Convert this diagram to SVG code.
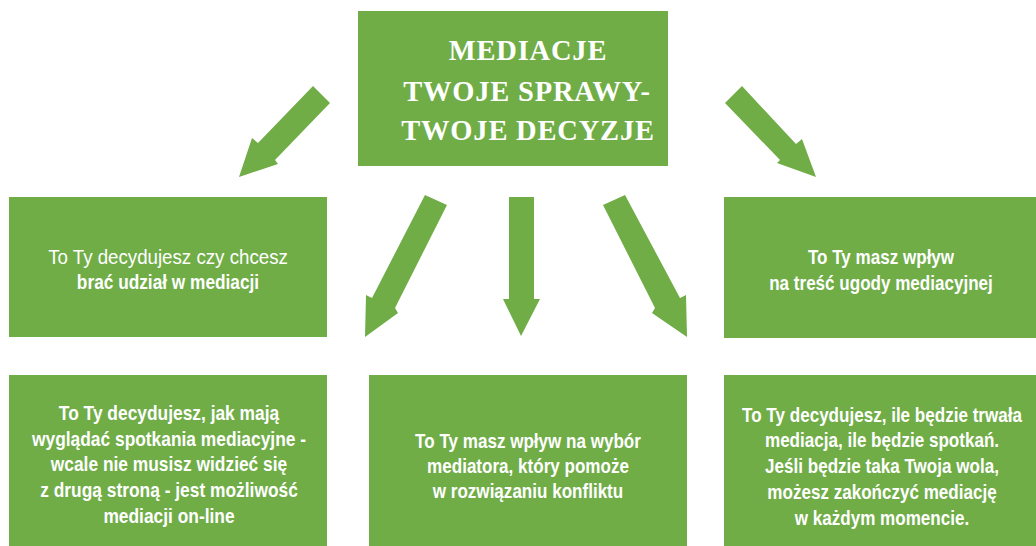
<svg xmlns="http://www.w3.org/2000/svg" width="1036" height="546" viewBox="0 0 1036 546">
<style>
.box{fill:#70AD47}
.arr{fill:#70AD47}
.t{font-family:"Liberation Sans","Arial",sans-serif;font-size:20.8px;fill:#ffffff;text-anchor:middle;font-weight:bold}
.r{font-weight:normal}
.title{font-family:"Liberation Serif","Times New Roman",serif;font-size:28.5px;font-weight:bold;fill:#ffffff;text-anchor:middle;letter-spacing:0.8px}
</style>
<rect width="1036" height="546" fill="#ffffff"/>
<g id="title">
<rect class="box" x="358" y="11" width="310" height="155"/>
<text class="title" x="528" y="60">MEDIACJE</text>
<text class="title" x="527" y="101">TWOJE SPRAWY-</text>
<text class="title" x="528" y="140">TWOJE DECYZJE</text>
</g>
<g id="connectors">
<polygon class="arr" points="313,86 330,103 275,160 278,164 239,177 252,138 258,143"/>
<polygon class="arr" points="742,86 725,103 780,160 777,163 816,177 802,139 796,144"/>
<polygon class="arr" points="425,195 447,205 395,308 398,313 365,337 366,295 372,298"/>
<polygon class="arr" points="509,197 534,197 534,299 540,299 521,336 503,299 509,299"/>
<polygon class="arr" points="625,195 603,205 655,308 652,313 687,337 686,295 680,298"/>
</g>
<g id="node-udzial">
<rect class="box" x="9" y="197" width="318" height="140"/>
<g transform="translate(168 0) scale(0.9 1)"><text class="t r" x="0" y="264">To Ty decydujesz czy chcesz</text></g>
<g transform="translate(168 0) scale(0.83 1)"><text class="t" x="0" y="289">brać udział w mediacji</text></g>
</g>
<g id="node-tresc">
<rect class="box" x="724" y="197" width="312" height="141"/>
<g transform="translate(881 0) scale(0.82 1)">
<text class="t" x="0" y="264">To Ty masz wpływ</text>
<text class="t" x="0" y="290">na treść ugody mediacyjnej</text>
</g>
</g>
<g id="node-spotkania">
<rect class="box" x="9" y="375" width="318" height="171"/>
<g transform="translate(169 0) scale(0.835 1)">
<text class="t" x="0" y="420">To Ty decydujesz, jak mają</text>
<text class="t" x="0" y="446">wyglądać spotkania mediacyjne -</text>
<text class="t" x="0" y="471">wcale nie musisz widzieć się</text>
<text class="t" x="0" y="497">z drugą stroną - jest możliwość</text>
<text class="t" x="0" y="523">mediacji on-line</text>
</g>
</g>
<g id="node-mediator">
<rect class="box" x="369" y="375" width="318" height="171"/>
<g transform="translate(528 0) scale(0.82 1)">
<text class="t" x="0" y="448">To Ty masz wpływ na wybór</text>
<text class="t" x="0" y="473">mediatora, który pomoże</text>
<text class="t" x="0" y="498">w rozwiązaniu konfliktu</text>
</g>
</g>
<g id="node-czas">
<rect class="box" x="724" y="375" width="312" height="171"/>
<g transform="translate(882 0) scale(0.82 1)">
<text class="t" x="0" y="422">To Ty decydujesz, ile będzie trwała</text>
<text class="t" x="0" y="447">mediacja, ile będzie spotkań.</text>
<text class="t" x="0" y="473">Jeśli będzie taka Twoja wola,</text>
<text class="t" x="0" y="499">możesz zakończyć mediację</text>
<text class="t" x="0" y="525">w każdym momencie.</text>
</g>
</g>
</svg>
